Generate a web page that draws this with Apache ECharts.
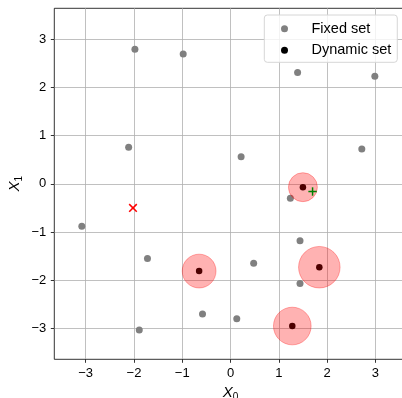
<!DOCTYPE html>
<html>
<head>
<meta charset="utf-8">
<script src="https://cdn.jsdelivr.net/npm/echarts@6/dist/echarts.min.js"></script>
<style>
  html, body { margin: 0; padding: 0; background: #fff; }
  #chart { width: 402px; height: 398px; }
</style>
</head>
<body>
<div id="chart"></div>
<script>
// Fixed set of points
const fixedX = [-1.98, -0.98, -2.11, 1.39, 2.99, 0.22, 2.72, 1.24, -3.08, -1.72, -1.89, -0.58, 1.44, 0.48, 1.44, 0.13];
const fixedY = [2.79, 2.69, 0.76, 2.31, 2.23, 0.56, 0.72, -0.30, -0.88, -1.55, -3.03, -2.70, -1.18, -1.65, -2.07, -2.80];

// Dynamic set of points and the radius of the region around each
const dynX = [1.50, -0.65, 1.84, 1.28];
const dynY = [-0.07, -1.81, -1.73, -2.95];
const dynR = [0.30, 0.35, 0.43, 0.39];

// Single markers
const crossPoint = [-2.02, -0.50];
const plusPoint = [1.70, -0.16];

// Axis ticks
const xTicks = [-3, -2, -1, 0, 1, 2, 3];
const yTicks = [-3, -2, -1, 0, 1, 2, 3];
const xRange = [-3.65, 3.65];
const yRange = [-3.64, 3.64];

const FONT = '"Liberation Sans", Arial, sans-serif';
const fmt = v => (v < 0 ? '\u2212' + Math.abs(v) : String(v));

const chart = echarts.init(document.getElementById('chart'), null, { renderer: 'canvas' });

const fixedData = fixedX.map((x, i) => [x, fixedY[i]]);
const dynData = dynX.map((x, i) => [x, dynY[i]]);
const circleData = dynX.map((x, i) => [x, dynY[i], dynR[i]]);

function axisCommon(ticks) {
  return {
    type: 'value',
    axisLine: { show: false, onZero: false },
    axisTick: { show: true, inside: false, length: 3.5, customValues: ticks,
                lineStyle: { color: '#000', width: 0.8 } },
    axisLabel: { customValues: ticks, formatter: fmt, color: '#000',
                 fontFamily: FONT, fontSize: 13 },
    splitLine: { show: true, lineStyle: { color: '#b0b0b0', width: 0.8 } },
  };
}

const nameRich = {
  i: { fontFamily: FONT, fontStyle: 'italic', fontSize: 15, color: '#000' },
  s: { fontFamily: FONT, fontSize: 10, color: '#000', padding: [8, 0, 0, 0] }
};

const option = {
  animation: false,
  backgroundColor: '#fff',
  grid: {
    left: 54.3, top: 8.3, width: 352.4, height: 351,
    outerBoundsMode: 'none', containLabel: false,
    show: true, borderColor: '#000', borderWidth: 0.8, backgroundColor: 'transparent'
  },
  xAxis: Object.assign(axisCommon(xTicks), {
    min: xRange[0], max: xRange[1],
    name: '{i|X}{s|0}', nameLocation: 'middle', nameGap: 25,
    nameTextStyle: { rich: nameRich },
  }),
  yAxis: Object.assign(axisCommon(yTicks), {
    min: yRange[0], max: yRange[1],
    name: '{i|X}{s|1}', nameLocation: 'middle', nameGap: 30, nameRotate: 90,
    nameMoveOverlap: false,
    nameTextStyle: { rich: nameRich },
  }),
  legend: {
    left: 264.3, top: 15,
    orient: 'vertical',
    padding: [5.7, 6, 4, 16.7],
    itemGap: 5.6,
    itemWidth: 8, itemHeight: 7,
    backgroundColor: 'rgba(255,255,255,0.8)',
    borderColor: '#d6d6d6', borderWidth: 1, borderRadius: 3,
    formatter: name => '{t|' + name + '}',
    textStyle: {
      fontFamily: FONT, fontSize: 14.5, color: '#000', lineHeight: 16,
      rich: { t: { fontFamily: FONT, fontSize: 14.5, color: '#000', lineHeight: 16, padding: [0, 0, 0, 18] } }
    },
    data: [
      { name: 'Fixed set', icon: 'circle' },
      { name: 'Dynamic set', icon: 'circle' }
    ]
  },
  series: [
    {
      name: 'Fixed set', type: 'scatter', data: fixedData,
      symbol: 'circle', symbolSize: 7, itemStyle: { color: '#808080', opacity: 1 }, z: 2
    },
    {
      name: 'Dynamic set', type: 'scatter', data: dynData,
      symbol: 'circle', symbolSize: 6.5, itemStyle: { color: '#000', opacity: 1 }, z: 3
    },
    {
      type: 'custom', data: circleData, z: 4, silent: true,
      renderItem: function (params, api) {
        const c = api.coord([api.value(0), api.value(1)]);
        const s = api.size([api.value(2), api.value(2)]);
        return {
          type: 'circle',
          shape: { cx: c[0], cy: c[1], r: s[0] },
          style: { fill: 'rgba(255,0,0,0.3)', stroke: 'rgba(255,0,0,0.3)', lineWidth: 1 }
        };
      }
    },
    {
      type: 'custom', data: [crossPoint], z: 5, silent: true,
      renderItem: function (params, api) {
        const c = api.coord([api.value(0), api.value(1)]);
        const h = 3.8;
        const st = { stroke: '#ff0000', lineWidth: 1.5 };
        return { type: 'group', children: [
          { type: 'line', shape: { x1: c[0] - h, y1: c[1] - h, x2: c[0] + h, y2: c[1] + h }, style: st },
          { type: 'line', shape: { x1: c[0] - h, y1: c[1] + h, x2: c[0] + h, y2: c[1] - h }, style: st }
        ]};
      }
    },
    {
      type: 'custom', data: [plusPoint], z: 5, silent: true,
      renderItem: function (params, api) {
        const c = api.coord([api.value(0), api.value(1)]);
        const h = 4.2;
        const st = { stroke: '#008000', lineWidth: 1.5 };
        return { type: 'group', children: [
          { type: 'line', shape: { x1: c[0] - h, y1: c[1], x2: c[0] + h, y2: c[1] }, style: st },
          { type: 'line', shape: { x1: c[0], y1: c[1] - h, x2: c[0], y2: c[1] + h }, style: st }
        ]};
      }
    }
  ]
};

chart.setOption(option);
</script>
</body>
</html>
